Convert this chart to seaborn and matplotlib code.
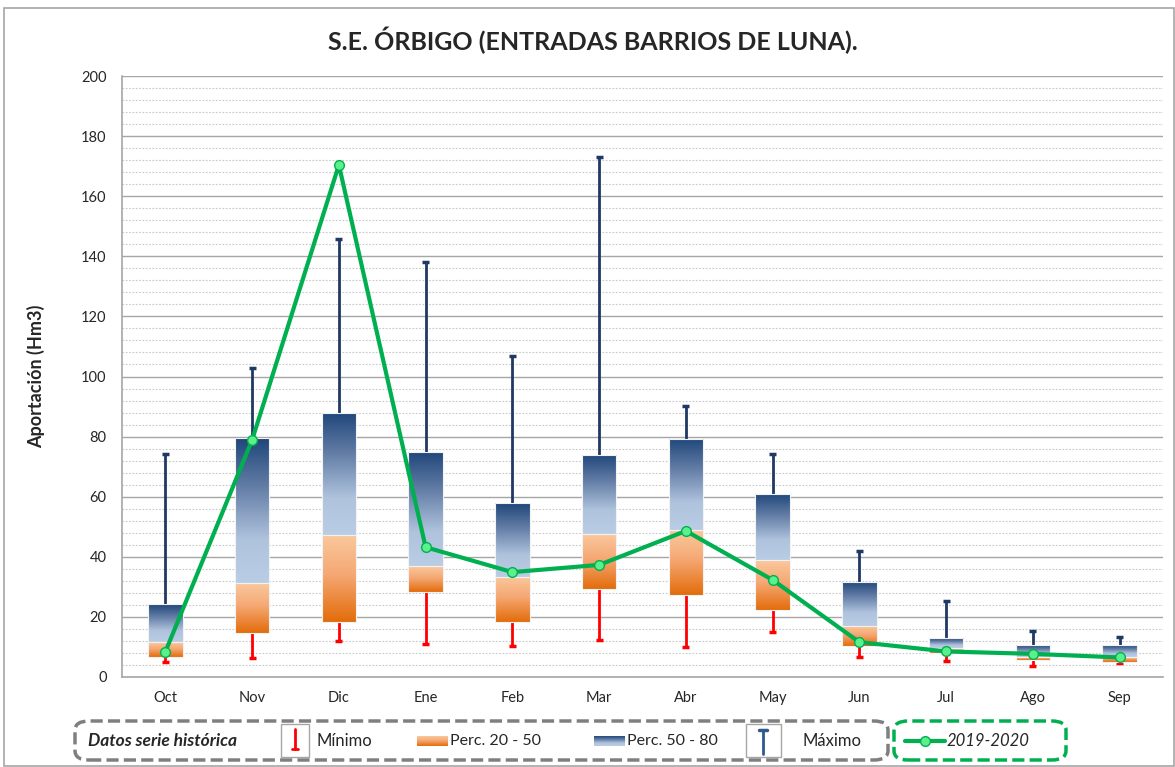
# %%
import numpy as np
import pandas as pd
import matplotlib
matplotlib.use("Agg")
import matplotlib.pyplot as plt
import seaborn as sns
from matplotlib.colors import LinearSegmentedColormap
from matplotlib.patches import Rectangle, FancyBboxPatch
from matplotlib.lines import Line2D

# %% Data (Hm3)
meses = ["Oct", "Nov", "Dic", "Ene", "Feb", "Mar", "Abr", "May", "Jun", "Jul", "Ago", "Sep"]
minimo = [5.0, 6.3, 11.9, 11.0, 10.3, 12.3, 10.0, 15.0, 6.8, 5.4, 3.8, 4.6]
perc20 = [6.8, 14.7, 18.3, 28.4, 18.3, 29.3, 27.3, 22.3, 10.3, 8.1, 5.5, 5.1]
perc50 = [11.7, 31.2, 47.1, 37.0, 33.3, 47.6, 48.9, 38.9, 17.0, 9.7, 6.8, 6.8]
perc80 = [24.2, 79.4, 87.7, 75.0, 57.9, 73.9, 79.2, 60.9, 31.7, 13.0, 10.5, 10.5]
maximo = [74.3, 102.8, 145.8, 138.1, 106.8, 173.0, 90.2, 74.2, 41.9, 25.2, 15.3, 13.2]
serie_2019_2020 = [8.4, 78.9, 170.4, 43.2, 34.9, 37.3, 48.6, 32.3, 11.6, 8.5, 7.7, 6.5]

df = pd.DataFrame({"mes": meses, "min": minimo, "p20": perc20, "p50": perc50,
                   "p80": perc80, "max": maximo, "actual": serie_2019_2020})
df["pos"] = np.arange(len(df))

# %%
sns.set_style("white")
plt.rcParams["font.family"] = ["Lato", "DejaVu Sans"]

fig = plt.figure(figsize=(11.75, 7.67), dpi=100)
ax = fig.add_axes([122 / 1175, 1 - 677 / 767, (1163 - 122) / 1175, (677 - 76) / 767])

cmap_naranja = LinearSegmentedColormap.from_list(
    "nar", [(0, "#E36C0A"), (0.55, "#F5A874"), (1, "#FAC89D")])
cmap_azul = LinearSegmentedColormap.from_list(
    "azu", [(0, "#B9CDE5"), (0.3, "#AFC3DD"), (0.65, "#6680A8"), (1, "#1F467A")])

ancho = 0.4
grad = np.linspace(0, 1, 256).reshape(-1, 1)


def caja_degradado(x, lo, hi, cmap):
    ext = [x - ancho / 2, x + ancho / 2, lo, hi]
    im = ax.imshow(grad, cmap=cmap, extent=ext, origin="lower",
                   aspect="auto", zorder=3, interpolation="bilinear")
    rect = Rectangle((x - ancho / 2, lo), ancho, hi - lo, facecolor="none",
                     edgecolor="#F2F2F2", lw=0.8, zorder=4)
    ax.add_patch(rect)
    im.set_clip_path(rect)


# whiskers
cap = 0.04
ax.vlines(df.pos, df["p80"], df["max"], color="#1F3864", lw=2, zorder=2)
ax.hlines(df["max"], df.pos - cap, df.pos + cap, color="#1F3864", lw=2.5, zorder=2)
ax.vlines(df.pos, df["min"], df["p20"], color="#FF0000", lw=2, zorder=2)
ax.hlines(df["min"], df.pos - cap, df.pos + cap, color="#FF0000", lw=2.5, zorder=2)

for _, r in df.iterrows():
    caja_degradado(r.pos, r.p20, r.p50, cmap_naranja)
    caja_degradado(r.pos, r.p50, r.p80, cmap_azul)

sns.lineplot(data=df, x="pos", y="actual", ax=ax, color="#00B050", lw=3,
             marker="o", markersize=7, markerfacecolor="#5CF08C",
             markeredgecolor="#00B050", markeredgewidth=1, zorder=6)

# axes
ax.set_xlim(-0.5, len(meses) - 0.5)
ax.set_ylim(0, 200)
ax.set_yticks(np.arange(0, 201, 20))
ax.set_yticks(np.arange(0, 201, 4), minor=True)
ax.grid(axis="y", which="major", color="#A6A6A6", lw=1.0, zorder=0)
ax.grid(axis="y", which="minor", color="#C8C8C8", lw=0.8, ls=(0, (1.5, 1.5)), zorder=0)
ax.set_axisbelow(True)
ax.set_xticks(df.pos)
ax.set_xticklabels(meses)
ax.set_xticks(np.arange(-0.5, len(meses)), minor=True)
ax.tick_params(axis="x", which="major", length=0, pad=10, labelsize=10.5)
ax.tick_params(axis="x", which="minor", length=6, color="#A6A6A6", direction="out")
ax.tick_params(axis="y", which="major", length=5, color="#A6A6A6", labelsize=10.5, pad=6)
ax.tick_params(axis="y", which="minor", length=0)
for s in ["top", "right"]:
    ax.spines[s].set_visible(False)
for s in ["left", "bottom"]:
    ax.spines[s].set_color("#A6A6A6")
    ax.spines[s].set_linewidth(1.2)
ax.set_xlabel("")
ax.set_ylabel("Aportación (Hm3)", fontsize=13, fontweight="bold", labelpad=26)

fig.text(0.505, 1 - 40 / 767, "S.E. ÓRBIGO (ENTRADAS BARRIOS DE LUNA).",
         ha="center", va="center", fontsize=18, fontweight="bold")

# figure border
fig.add_artist(Rectangle((0.003, 0.001), 0.996, 1 - 8 / 767 - 0.001,
                         transform=fig.transFigure, fill=False,
                         edgecolor="#A6A6A6", lw=1.2))

# %% legend (drawn by hand, two dashed boxes)
W, H = 1175, 767


def fx(px):
    return px / W


def fy(py):
    return 1 - py / H


yc = fy(741)
fig.add_artist(FancyBboxPatch((fx(75), fy(760)), fx(888 - 75), fy(721) - fy(760),
                              boxstyle="round,pad=0,rounding_size=0.012",
                              transform=fig.transFigure, fill=False,
                              edgecolor="#7F7F7F", lw=2.5, ls=(0, (3.5, 1.5))))
fig.add_artist(FancyBboxPatch((fx(894), fy(760)), fx(1066 - 894), fy(721) - fy(760),
                              boxstyle="round,pad=0,rounding_size=0.012",
                              transform=fig.transFigure, fill=False,
                              edgecolor="#00B050", lw=2.5, ls=(0, (3.5, 1.5))))
fig.text(fx(88), yc, "Datos serie histórica", fontsize=12.5, fontweight="bold",
         style="italic", va="center")

# Minimo icon
fig.add_artist(Rectangle((fx(281), fy(757)), fx(28), fy(724) - fy(757),
                         transform=fig.transFigure, fill=False, edgecolor="#A6A6A6", lw=1))
fig.add_artist(Line2D([fx(295), fx(295)], [fy(749), fy(729)], transform=fig.transFigure,
                      color="#FF0000", lw=2))
fig.add_artist(Line2D([fx(292), fx(298)], [fy(749), fy(749)], transform=fig.transFigure,
                      color="#FF0000", lw=2))
fig.text(fx(317), yc, "Mínimo", fontsize=12, va="center")

# Perc icons
for x0, cm, lab in [(417, cmap_naranja, "Perc. 20 - 50"), (594, cmap_azul, "Perc. 50 - 80")]:
    iax = fig.add_axes([fx(x0), fy(746), fx(31), fy(736) - fy(746)])
    iax.imshow(grad, cmap=cm, origin="lower", aspect="auto")
    iax.axis("off")
    fig.text(fx(x0 + 33), yc, lab, fontsize=11.5, va="center")

# Maximo icon
fig.add_artist(Rectangle((fx(746), fy(757)), fx(35), fy(724) - fy(757),
                         transform=fig.transFigure, fill=False, edgecolor="#A6A6A6", lw=1))
fig.add_artist(Line2D([fx(763), fx(763)], [fy(754), fy(730)], transform=fig.transFigure,
                      color="#2E5A8C", lw=2))
fig.add_artist(Line2D([fx(759), fx(767)], [fy(730), fy(730)], transform=fig.transFigure,
                      color="#2E5A8C", lw=2.5))
fig.text(fx(803), yc, "Máximo", fontsize=12, va="center")

# 2019-2020
fig.add_artist(Line2D([fx(905), fx(945)], [yc, yc], transform=fig.transFigure,
                      color="#00B050", lw=3))
fig.add_artist(Line2D([fx(925)], [yc], transform=fig.transFigure, color="#00B050",
                      marker="o", markersize=7, markerfacecolor="#5CF08C",
                      markeredgecolor="#00B050"))
fig.text(fx(947), yc, "2019-2020", fontsize=12, style="italic", va="center")

fig.savefig("out.png", dpi=100)
